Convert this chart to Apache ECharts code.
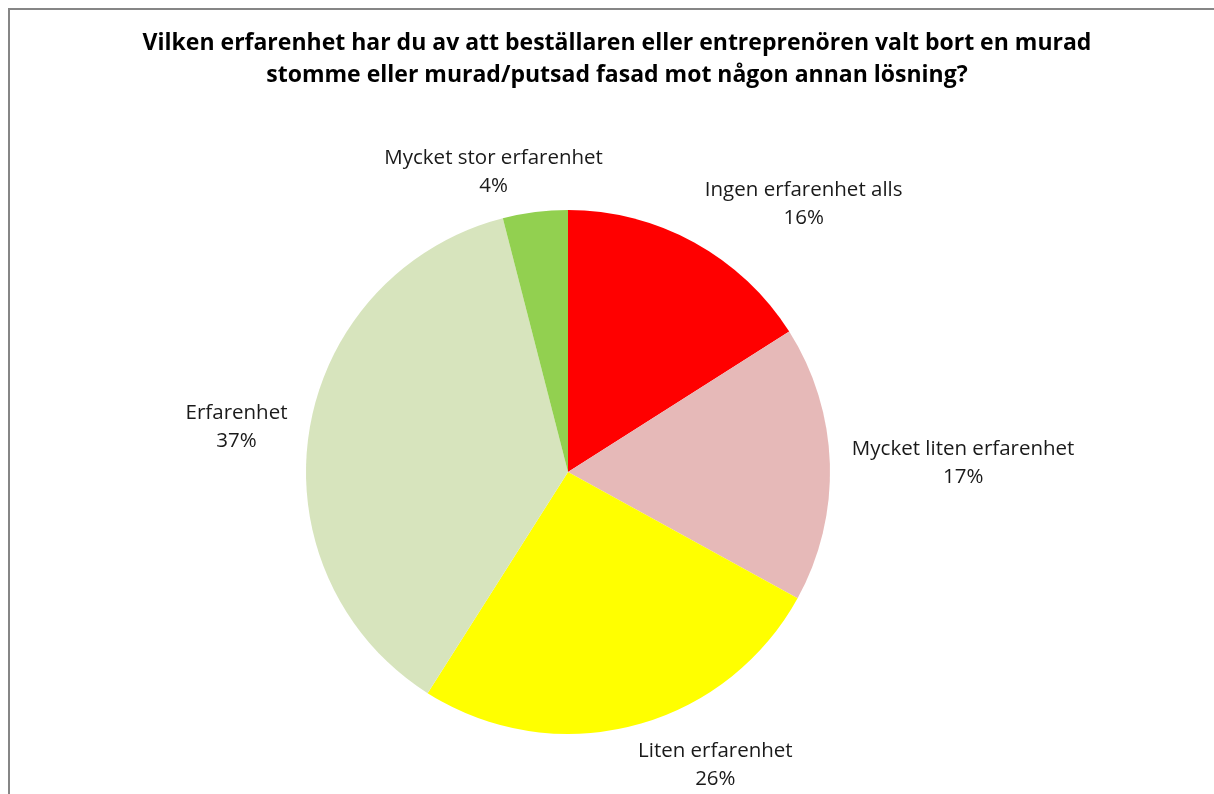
<!DOCTYPE html>
<html>
<head>
<meta charset="utf-8">
<script src="https://cdn.jsdelivr.net/npm/echarts@6/dist/echarts.min.js"></script>
<style>
  html, body { margin: 0; padding: 0; background: #fff; }
  #main { width: 1214px; height: 794px; }
</style>
</head>
<body>
<div id="main"></div>
<script>
// data, clockwise from 12 o'clock
var categories = ['Ingen erfarenhet alls', 'Mycket liten erfarenhet', 'Liten erfarenhet', 'Erfarenhet', 'Mycket stor erfarenhet'];
var percents = [16, 17, 26, 37, 4];
var colors = ['#FF0000', '#E6B9B8', '#FFFF00', '#D7E4BD', '#92D050'];

var titleText = 'Vilken erfarenhet har du av att beställaren eller entreprenören valt bort en murad\nstomme eller murad/putsad fasad mot någon annan lösning?';

var cx = 568, cy = 472, radius = 262;

var total = 0;
percents.forEach(function (v) { total += v; });

// Excel-ish placement: label box sits just outside the rim at the slice's mid angle
function placeLabel(params) {
    var i = params.dataIndex;
    var before = 0;
    for (var j = 0; j < i; j++) before += percents[j];
    var a = (before + percents[i] / 2) / total * 2 * Math.PI;
    var ux = Math.sin(a), uy = -Math.cos(a);
    var w = params.labelRect.width, h = params.labelRect.height;
    var gapX = 22, gapY = 12;
    var fx = Math.min(1, 8 * Math.pow(Math.abs(ux), 1.5));
    var fy = Math.min(1, 3 * uy * uy);
    var x = cx + (radius + gapX) * ux + Math.sign(ux) * fx * w / 2;
    var y = cy + (radius + gapY) * uy + Math.sign(uy) * fy * h / 2;
    return { x: x, y: y, align: 'center', verticalAlign: 'middle' };
}

var chart = echarts.init(document.getElementById('main'));
chart.setOption({
    animation: false,
    title: {
        text: titleText,
        left: 612,
        top: 22,
        textAlign: 'center',
        textStyle: {
            fontFamily: 'Open Sans',
            fontWeight: 'bold',
            fontSize: 23,
            lineHeight: 32,
            color: '#000'
        }
    },
    graphic: [{
        type: 'rect',
        shape: { x: 9, y: 9, width: 1300, height: 900 },
        style: { fill: 'none', stroke: '#868686', lineWidth: 2 },
        silent: true
    }],
    series: [{
        type: 'pie',
        center: [cx, cy],
        radius: radius,
        startAngle: 90,
        clockwise: true,
        emphasis: { scale: false },
        itemStyle: { borderWidth: 0 },
        label: {
            show: true,
            position: 'outside',
            formatter: function (p) { return p.name + '\n' + p.value + '%'; },
            fontFamily: 'Open Sans',
            fontSize: 20.5,
            lineHeight: 28,
            color: '#1a1a1a'
        },
        labelLine: { show: false },
        labelLayout: placeLabel,
        data: categories.map(function (name, i) {
            return { name: name, value: percents[i], itemStyle: { color: colors[i] } };
        })
    }]
});
</script>
</body>
</html>
